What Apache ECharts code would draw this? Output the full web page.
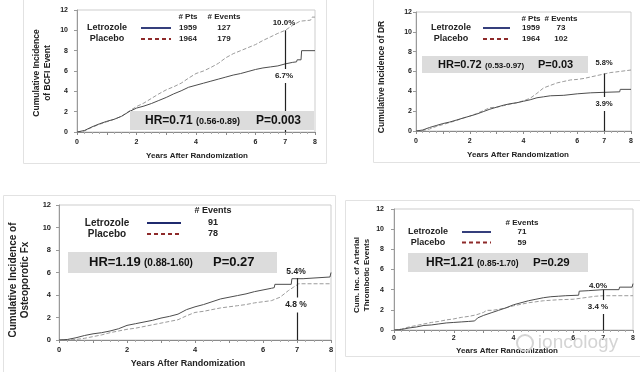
<!DOCTYPE html>
<html><head><meta charset="utf-8">
<script src="https://cdn.jsdelivr.net/npm/echarts@6/dist/echarts.min.js"></script>
<style>html,body{margin:0;padding:0;background:#fff}#c{width:640px;height:372px}</style>
</head><body><div id="c"></div>
<script>
// ---------- DATA ----------
const yTickValues = [0, 2, 4, 6, 8, 10, 12];
const xTickLabels = [0, 2, 4, 6, 7, 8];
const seriesNames = ["Letrozole", "Placebo"];

// Panel 1: BCFI event
const bcfiLetrozole = [[0,0],[0.25,0.15],[0.5,0.5],[0.75,0.8],[1,1.05],[1.25,1.25],[1.5,1.55],[1.75,2.0],[2,2.35],[2.25,2.55],[2.5,2.8],[2.75,3.1],[3,3.4],[3.25,3.75],[3.5,4.05],[3.75,4.4],[4,4.6],[4.25,4.8],[4.5,5.0],[4.75,5.2],[5,5.4],[5.25,5.6],[5.5,5.75],[5.75,5.95],[6,6.15],[6.25,6.3],[6.5,6.4],[6.75,6.5],[7,6.7],[7.25,6.85],[7.38,6.9],[7.4,7.1],[7.53,7.1],[7.55,8.0],[8,8.0]];
const bcfiPlacebo = [[0,0],[0.25,0.1],[0.5,0.45],[0.75,0.75],[1,1.0],[1.25,1.25],[1.5,1.55],[1.75,2.05],[2,2.5],[2.25,2.85],[2.5,3.3],[2.75,3.75],[3,4.15],[3.25,4.45],[3.5,4.8],[3.75,5.3],[4,5.75],[4.25,6.0],[4.5,6.35],[4.75,6.75],[5,7.3],[5.25,7.7],[5.5,8.0],[5.75,8.3],[6,8.6],[6.25,9.0],[6.5,9.35],[6.75,9.7],[7,10.0],[7.25,10.5],[7.5,10.9],[7.85,11.0],[7.9,11.3],[8,11.3]];
// Panel 2: DR
const drLetrozole = [[0,0],[0.25,0.1],[0.5,0.35],[0.75,0.55],[1,0.75],[1.25,0.9],[1.5,1.1],[1.75,1.3],[2,1.5],[2.25,1.7],[2.5,1.95],[2.75,2.2],[3,2.4],[3.25,2.6],[3.5,2.75],[3.75,2.85],[4,3.0],[4.25,3.15],[4.5,3.35],[4.75,3.45],[5,3.55],[5.5,3.6],[6,3.75],[6.5,3.85],[7,3.9],[7.58,3.95],[7.6,4.2],[8,4.2]];
const drPlacebo = [[0,0],[0.25,0.05],[0.5,0.2],[0.75,0.45],[1,0.65],[1.25,0.85],[1.5,1.05],[1.75,1.3],[2,1.5],[2.25,1.75],[2.5,2.05],[2.75,2.35],[3,2.4],[3.25,2.55],[3.5,2.7],[3.75,2.85],[4,3.05],[4.25,3.3],[4.5,3.8],[4.75,4.35],[5,4.6],[5.25,4.85],[5.5,5.0],[5.75,5.15],[6,5.2],[6.25,5.3],[6.5,5.45],[6.75,5.6],[7,5.75],[7.25,5.9],[7.43,5.95],[7.45,6.15],[8,6.15]];
// Panel 3: Osteoporotic fracture
const fxLetrozole = [[0,0],[0.25,0.05],[0.5,0.2],[0.75,0.4],[1,0.55],[1.25,0.65],[1.5,0.8],[1.75,1.0],[2,1.3],[2.25,1.45],[2.5,1.6],[2.75,1.75],[3,1.95],[3.25,2.1],[3.5,2.3],[3.75,2.7],[4,2.95],[4.25,3.15],[4.5,3.4],[4.75,3.65],[5,3.8],[5.25,3.95],[5.5,4.1],[5.75,4.3],[6,4.45],[6.25,4.6],[6.33,4.65],[6.35,4.95],[6.83,4.95],[6.85,5.45],[7.18,5.45],[7.2,5.6],[7.97,5.6],[8,6.0]];
const fxPlacebo = [[0,0],[0.25,0],[0.5,0.05],[0.75,0.15],[1,0.3],[1.25,0.45],[1.5,0.65],[1.75,0.8],[2,0.95],[2.25,1.05],[2.5,1.2],[2.75,1.35],[3,1.5],[3.25,1.65],[3.5,1.8],[3.75,2.15],[4,2.45],[4.25,2.55],[4.5,2.7],[4.75,2.85],[5,2.95],[5.25,3.05],[5.5,3.15],[5.75,3.3],[6,3.4],[6.25,3.5],[6.5,3.8],[6.75,4.4],[6.9,4.7],[7.05,5.0],[8,5.0]];
// Panel 4: Arterial thrombotic events
const atLetrozole = [[0,0],[0.25,0.05],[0.5,0.2],[0.75,0.3],[1,0.45],[1.25,0.5],[1.5,0.6],[1.75,0.7],[2,0.75],[2.25,0.8],[2.5,0.85],[2.7,0.9],[2.8,1.2],[3,1.45],[3.25,1.7],[3.5,1.95],[3.75,2.2],[4,2.5],[4.25,2.7],[4.5,2.9],[4.75,3.05],[5,3.2],[5.25,3.3],[5.5,3.35],[5.75,3.4],[6.18,3.45],[6.2,3.85],[6.5,3.9],[7,4.0],[7.53,4.0],[7.55,4.25],[7.97,4.25],[8,4.6]];
const atPlacebo = [[0,0],[0.25,0.1],[0.5,0.3],[0.75,0.45],[1,0.6],[1.25,0.75],[1.5,0.85],[1.75,1.0],[2,1.1],[2.25,1.25],[2.5,1.35],[2.75,1.5],[3,1.75],[3.1,1.95],[3.3,1.95],[3.5,2.05],[3.75,2.2],[4,2.4],[4.25,2.55],[4.5,2.7],[4.75,2.8],[5,2.9],[5.25,2.95],[5.5,3.0],[6,3.05],[6.25,3.15],[6.5,3.25],[6.75,3.35],[7,3.4],[8,3.4]];

const markerTop = [10.0, 5.8, 5.5, 4.0];   // vertical marker at year 7 reaches this value
const yTitles = [["Cumulative Incidence","of BCFI Event"],["Cumulative Incidence of DR"],["Cumulative Incidence of","Osteoporotic Fx"],["Cum. Inc. of Arterial","Thrombotic Events"]];
const xTitle = "Years After Randomization";
const ptsCounts = [[1959,1964],[1959,1964],null,null];
const eventCounts = [[127,179],[73,102],[91,78],[71,59]];
const hrValues = ["HR=0.71","HR=0.72","HR=1.19","HR=1.21"];
const hrCI = ["(0.56-0.89)","(0.53-0.97)","(0.88-1.60)","(0.85-1.70)"];
const pValues = ["P=0.003","P=0.03","P=0.27","P=0.29"];
const pctUpper = ["10.0%","5.8%","5.4%","4.0%"];
const pctLower = ["6.7%","3.9%","4.8 %","3.4 %"];
const watermark = "ioncology";

// ---------- LAYOUT ----------
const FF = '"Liberation Sans", Arial, sans-serif';
const L = [
  {grid:{left:77,top:10,width:238,height:122}, ylm:9, xlm:7, tfs:7,
   frame:[23,-1,303,164], yt:{xs:[37,48],cy:73,fs:8.5}, xt:{x:197,y:156,fs:8},
   lg:{nameX:107,rows:[28,39],line:[141,171],ptsX:188,evX:224,hy:17,fs:9,cfs:8},
   hr:{box:[130,111,184,19],hx:145,px:256,cy:121,hfs:12,cfs:9,pfs:12},
   pct:{x:284,up:23,lo:76,fs:8}},
  {grid:{left:416,top:12,width:215,height:119}, ylm:4, xlm:7, tfs:7,
   frame:[373,-1,268,163], yt:{xs:[382],cy:77,fs:8.5}, xt:{x:518,y:155,fs:8},
   lg:{nameX:451,rows:[28,39],line:[483,510],ptsX:531,evX:561,hy:19,fs:9,cfs:8},
   hr:{box:[422,56,166,17],hx:438,px:538,cy:64.5,hfs:11,cfs:8,pfs:11},
   pct:{x:604,up:63,lo:104,fs:7.5}},
  {grid:{left:59,top:205,width:272,height:135}, ylm:8, xlm:6, tfs:7.5,
   frame:[3,195,332,178], yt:{xs:[13,25],cy:280,fs:10}, xt:{x:188,y:364,fs:9},
   lg:{nameX:107,rows:[223,234],line:[147,181],ptsX:null,evX:213,hy:211,fs:10,cfs:9},
   hr:{box:[68,252,209,21],hx:89,px:213,cy:262.5,hfs:13,cfs:10,pfs:13},
   pct:{x:296,up:272,lo:305,fs:8.5}},
  {grid:{left:394,top:209,width:239,height:121}, ylm:10, xlm:5, tfs:7,
   frame:[345,200,296,156], yt:{xs:[357,367],cy:275,fs:8}, xt:{x:507,y:351,fs:8},
   lg:{nameX:428,rows:[232,242.5],line:[462,491],ptsX:null,evX:522,hy:223,fs:9,cfs:8},
   hr:{box:[408,253,180,19],hx:426,px:533,cy:263,hfs:12,cfs:8.5,pfs:11.5},
   pct:{x:598,up:286,lo:307,fs:8}}
];
const panelData = [[bcfiLetrozole,bcfiPlacebo],[drLetrozole,drPlacebo],[fxLetrozole,fxPlacebo],[atLetrozole,atPlacebo]];

const grids=[], xAxes=[], yAxes=[], series=[], graphics=[];
function T(x,y,text,fs,o){o=o||{};return {type:'text',x:x,y:y,z:o.z||50,rotation:o.rot||0,silent:true,
  style:{text:text,fontSize:fs,fontWeight:o.w||'bold',fontFamily:FF,fill:o.c||'#222',
  align:o.a||'center',verticalAlign:'middle',textAlign:o.a||'center',textVerticalAlign:'middle',
  backgroundColor:o.bg,padding:o.pad,rich:o.rich}};}

L.forEach((p,i)=>{
  grids.push(Object.assign({show:true,borderColor:'#cdcdcd',borderWidth:1,backgroundColor:'transparent'},p.grid));
  xAxes.push({type:'value',gridIndex:i,min:0,max:8,interval:1,
    axisLine:{lineStyle:{color:'#8a8a8a',width:1}},
    axisTick:{show:true,length:3,lineStyle:{color:'#8a8a8a'}},
    minorTick:{show:true,splitNumber:4,length:2,lineStyle:{color:'#aaa'}},
    splitLine:{show:false},
    axisLabel:{margin:p.xlm,fontSize:p.tfs,fontWeight:'bold',fontFamily:FF,color:'#222',
      formatter:v=>xTickLabels.indexOf(v)>=0?String(v):''}});
  yAxes.push({type:'value',gridIndex:i,min:0,max:12,interval:2,
    axisLine:{show:true,lineStyle:{color:'#9a9a9a',width:1}},
    axisTick:{show:true,length:3,lineStyle:{color:'#9a9a9a'}},
    splitLine:{show:false},
    axisLabel:{margin:p.ylm,fontSize:p.tfs,fontWeight:'bold',fontFamily:FF,color:'#222',
      formatter:v=>yTickValues.indexOf(v)>=0?String(v):''}});
  const [let_, pla] = panelData[i];
  series.push({name:seriesNames[0],type:'line',xAxisIndex:i,yAxisIndex:i,data:let_,
    symbol:'none',silent:true,z:3,lineStyle:{color:'#4d4d4d',width:1},
    markLine:{silent:true,symbol:'none',animation:false,label:{show:false},
      lineStyle:{color:'#222',width:1.2,type:'solid'},
      data:[[{coord:[7,0]},{coord:[7,markerTop[i]]}]]}});
  series.push({name:seriesNames[1],type:'line',xAxisIndex:i,yAxisIndex:i,data:pla,
    symbol:'none',silent:true,z:2,lineStyle:{color:'#9b9b9b',width:1,type:[4,2]}});

  graphics.push({type:'rect',z:1,silent:true,shape:{x:p.frame[0]+0.5,y:p.frame[1]+0.5,width:p.frame[2],height:p.frame[3]},
    style:{fill:'none',stroke:'#e2e2e2',lineWidth:1}});
  yTitles[i].forEach((t,k)=>graphics.push(T(p.yt.xs[k],p.yt.cy,t,p.yt.fs,{rot:Math.PI/2})));
  graphics.push(T(p.xt.x,p.xt.y,xTitle,p.xt.fs));
  const lg=p.lg;
  seriesNames.forEach((n,k)=>{
    graphics.push(T(lg.nameX,lg.rows[k],n,lg.fs));
    graphics.push({type:'line',z:50,silent:true,shape:{x1:lg.line[0],y1:lg.rows[k],x2:lg.line[1],y2:lg.rows[k]},
      style:{stroke:k===0?'#1f2a6e':'#8e2a2a',lineWidth:1.8,lineDash:k===0?null:[4,3]}});
    if(lg.ptsX!==null && ptsCounts[i]) graphics.push(T(lg.ptsX,lg.rows[k],String(ptsCounts[i][k]),lg.cfs));
    graphics.push(T(lg.evX,lg.rows[k],String(eventCounts[i][k]),lg.cfs));
  });
  if(lg.ptsX!==null && ptsCounts[i]) graphics.push(T(lg.ptsX,lg.hy,'# Pts',lg.cfs));
  graphics.push(T(lg.evX,lg.hy,'# Events',lg.cfs));
  const h=p.hr;
  graphics.push({type:'rect',z:40,silent:true,shape:{x:h.box[0],y:h.box[1],width:h.box[2],height:h.box[3]},style:{fill:'#dcdcdc'}});
  graphics.push({type:'text',x:h.hx,y:h.cy,z:50,silent:true,style:{
    text:'{a|'+hrValues[i]+'} {b|'+hrCI[i]+'}',align:'left',verticalAlign:'middle',textAlign:'left',textVerticalAlign:'middle',
    rich:{a:{fontSize:h.hfs,fontWeight:'bold',fontFamily:FF,fill:'#111',color:'#111'},
          b:{fontSize:h.cfs,fontWeight:'bold',fontFamily:FF,fill:'#111',color:'#111',padding:[2,0,0,0]}}}});
  graphics.push(T(h.px,h.cy,pValues[i],h.pfs,{a:'left',c:'#111'}));
  graphics.push(T(p.pct.x,p.pct.up,pctUpper[i],p.pct.fs,{c:'#222'}));
  graphics.push(T(p.pct.x,p.pct.lo,pctLower[i],p.pct.fs,{c:'#222',bg:'#fff',pad:[3,2]}));
});
graphics.push(T(578,343,watermark,19,{w:'normal',c:'#d4d4d4',z:60}));
graphics.push({type:'circle',z:60,silent:true,shape:{cx:525,cy:343,r:8},style:{fill:'none',stroke:'#d4d4d4',lineWidth:2}});

const chart = echarts.init(document.getElementById('c'),null,{renderer:'canvas'});
chart.setOption({animation:false,backgroundColor:'#fff',grid:grids,xAxis:xAxes,yAxis:yAxes,series:series,graphic:{elements:graphics}});
</script></body></html>
